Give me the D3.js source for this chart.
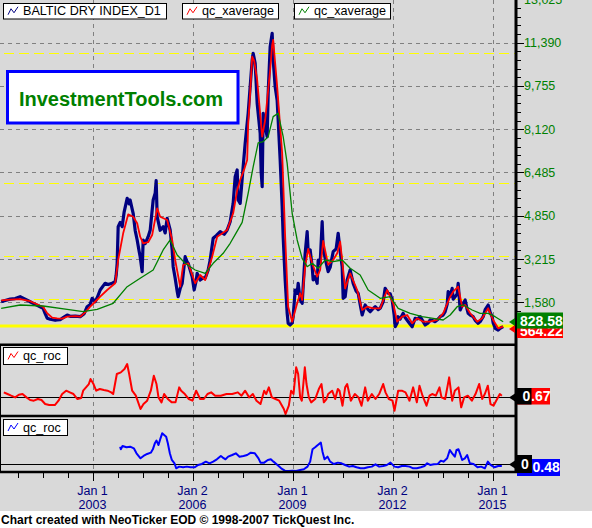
<!DOCTYPE html>
<html><head><meta charset="utf-8">
<script src="https://cdn.jsdelivr.net/npm/d3@7"></script>
<style>body{margin:0;background:#d9d9d9;}svg{display:block;font-family:"Liberation Sans",Arial,sans-serif;}</style>
</head><body><svg id="c" width="592" height="528"></svg>
<script>
// ---------- DATA ----------
const bdiYears = [2000.26,2000.38,2000.53,2000.68,2000.83,2000.98,2001.13,2001.22,2001.37,2001.52,2001.58,2001.64,2001.73,2001.88,2001.94,2002.03,2002.12,2002.24,2002.33,2002.48,2002.63,2002.75,2002.84,2002.93,2002.99,2003.08,2003.14,2003.23,2003.32,2003.38,2003.47,2003.59,2003.68,2003.71,2003.74,2003.77,2003.83,2003.89,2003.95,2004.04,2004.10,2004.13,2004.19,2004.22,2004.28,2004.34,2004.40,2004.43,2004.49,2004.52,2004.58,2004.67,2004.73,2004.82,2004.88,2004.91,2004.94,2005.03,2005.12,2005.18,2005.24,2005.33,2005.39,2005.42,2005.48,2005.54,2005.57,2005.63,2005.69,2005.78,2005.84,2005.87,2005.93,2005.99,2006.05,2006.11,2006.14,2006.23,2006.32,2006.38,2006.47,2006.53,2006.62,2006.71,2006.83,2006.95,2007.04,2007.13,2007.22,2007.28,2007.34,2007.37,2007.43,2007.52,2007.58,2007.67,2007.73,2007.79,2007.82,2007.88,2007.94,2008.03,2008.06,2008.09,2008.12,2008.18,2008.24,2008.27,2008.33,2008.39,2008.42,2008.48,2008.54,2008.57,2008.63,2008.69,2008.72,2008.78,2008.84,2008.87,2008.93,2008.99,2009.02,2009.08,2009.14,2009.17,2009.23,2009.29,2009.32,2009.38,2009.44,2009.47,2009.53,2009.59,2009.62,2009.68,2009.74,2009.77,2009.83,2009.89,2009.92,2009.98,2010.07,2010.13,2010.22,2010.31,2010.37,2010.43,2010.49,2010.52,2010.58,2010.64,2010.73,2010.82,2010.91,2010.97,2011.03,2011.09,2011.18,2011.27,2011.33,2011.42,2011.48,2011.57,2011.63,2011.72,2011.78,2011.87,2011.93,2011.99,2012.05,2012.08,2012.14,2012.17,2012.23,2012.32,2012.38,2012.44,2012.53,2012.59,2012.68,2012.74,2012.83,2012.92,2012.98,2013.07,2013.13,2013.22,2013.28,2013.37,2013.43,2013.52,2013.58,2013.64,2013.67,2013.73,2013.79,2013.82,2013.88,2013.94,2013.97,2014.00,2014.03,2014.12,2014.18,2014.24,2014.27,2014.33,2014.42,2014.48,2014.57,2014.63,2014.72,2014.78,2014.87,2014.93,2014.99,2015.02,2015.08,2015.17,2015.23,2015.32];
const bdiValues = [1600,1650,1700,1720,1790,1700,1600,1540,1450,1350,1150,980,940,900,911,920,1000,1100,1050,1060,1035,1150,1413,1500,1731,1600,1750,2044,2200,2297,2250,2300,2358,2600,3053,4437,4600,4437,5000,5510,5300,5445,5100,4943,4300,3934,3500,3303,2736,3934,3800,4059,4300,5445,5700,6175,4814,4300,4437,4200,4754,4312,3556,2925,2487,2000,1791,2100,2297,3303,3100,3053,2800,2547,2044,2400,2675,2422,2500,2487,2800,3178,3998,4100,4247,4150,4312,4625,5320,6326,6579,5445,5320,6705,7588,8721,9727,10735,10989,10611,9100,7966,6500,5948,8721,8215,7838,9477,11238,11744,10735,9727,9200,8469,6957,5192,4059,2422,1164,786,722,800,1035,2044,1920,2297,1667,1542,2169,3430,4247,3500,3556,2925,2422,2547,2297,3178,3053,4625,3600,3242,2736,2900,3492,3600,4187,3500,2925,1731,1791,2422,2800,2297,2000,1920,1500,1100,1478,1300,1225,1350,1413,1300,1353,1600,2109,1920,1900,1667,1100,658,800,1035,950,1164,1000,900,750,658,975,950,1035,850,722,800,911,880,847,950,1035,1100,1225,1500,1980,1800,2109,1700,1791,1900,2297,1800,1289,1542,1667,1300,1164,1100,1035,900,786,850,1035,1300,1478,1200,1035,800,597,533,600,658];

const fastAvgYears = [2000.26,2000.53,2000.83,2001.13,2001.52,2001.64,2001.79,2001.94,2002.09,2002.24,2002.48,2002.63,2002.78,2002.93,2003.08,2003.23,2003.44,2003.68,2003.77,2003.92,2004.07,2004.22,2004.34,2004.43,2004.52,2004.67,2004.79,2004.94,2005.03,2005.24,2005.39,2005.48,2005.63,2005.72,2005.87,2006.08,2006.23,2006.38,2006.59,2006.74,2007.04,2007.22,2007.34,2007.43,2007.55,2007.64,2007.67,2007.73,2007.79,2007.85,2007.94,2008.09,2008.18,2008.33,2008.39,2008.42,2008.54,2008.69,2008.78,2008.87,2008.99,2009.14,2009.23,2009.29,2009.38,2009.47,2009.59,2009.74,2009.83,2009.92,2010.07,2010.22,2010.34,2010.43,2010.58,2010.73,2010.94,2011.09,2011.24,2011.42,2011.63,2011.84,2012.02,2012.14,2012.29,2012.44,2012.59,2012.74,2012.92,2013.13,2013.34,2013.52,2013.73,2013.82,2013.97,2014.09,2014.18,2014.33,2014.54,2014.69,2014.87,2015.02,2015.17,2015.32];
const fastAvgValues = [1650,1680,1700,1620,1400,1164,1000,975,960,1035,1060,1035,1200,1413,1600,1791,2044,2297,3178,4187,4900,4814,4565,4059,3809,3850,4122,5131,4814,4690,3934,3178,2169,2989,3053,2297,2611,2422,3303,4059,4312,4943,5800,6201,6600,6957,8300,9500,10861,10700,9980,7838,8469,10358,11300,11492,9727,7210,4059,1413,847,1542,1920,1667,2925,3600,3053,2547,2800,3900,3000,3178,3430,3870,2100,2675,2044,1289,1413,1353,1353,2044,1542,847,1035,1100,786,975,847,850,911,1164,1791,1980,2169,1413,1478,1164,847,975,1353,911,597,658];

const slowAvgYears = [2000.26,2000.83,2001.52,2002.24,2002.72,2003.14,2003.62,2004.04,2004.43,2004.82,2005.12,2005.33,2005.54,2005.78,2006.08,2006.38,2006.62,2006.92,2007.13,2007.31,2007.49,2007.67,2007.82,2007.97,2008.12,2008.27,2008.42,2008.57,2008.72,2008.84,2008.99,2009.14,2009.29,2009.44,2009.59,2009.77,2009.98,2010.22,2010.49,2010.73,2011.03,2011.27,2011.63,2011.93,2012.17,2012.53,2012.89,2013.22,2013.52,2013.73,2013.94,2014.12,2014.39,2014.63,2014.87,2015.08,2015.32];
const slowAvgValues = [1353,1478,1440,1315,1225,1315,1542,2169,2487,2800,3556,3934,3367,3053,2800,2675,3053,3430,3809,4200,4600,5700,6700,7600,7650,7838,8595,8721,7838,6831,4943,3934,3242,2925,3053,2864,3178,3116,3178,2864,2611,2044,1731,1791,1353,1164,1035,975,911,1100,1413,1478,1289,1164,1164,1035,847];

const roc1Years = [2000.34,2000.45,2000.56,2000.68,2000.79,2000.90,2001.02,2001.13,2001.24,2001.36,2001.47,2001.58,2001.70,2001.87,2001.98,2002.09,2002.21,2002.32,2002.43,2002.55,2002.66,2002.72,2002.89,2002.94,2003.03,2003.11,2003.22,2003.34,2003.45,2003.56,2003.62,2003.73,2003.85,2003.96,2004.04,2004.10,2004.19,2004.30,2004.44,2004.53,2004.64,2004.75,2004.84,2004.92,2004.98,2005.07,2005.15,2005.26,2005.38,2005.49,2005.60,2005.66,2005.77,2005.89,2006.00,2006.11,2006.23,2006.34,2006.45,2006.56,2006.68,2006.85,2007.02,2007.19,2007.36,2007.47,2007.58,2007.70,2007.81,2007.92,2008.04,2008.15,2008.21,2008.29,2008.38,2008.49,2008.60,2008.74,2008.79,2008.89,2008.96,2009.03,2009.11,2009.17,2009.23,2009.28,2009.37,2009.42,2009.49,2009.56,2009.68,2009.79,2009.87,2009.94,2010.02,2010.07,2010.19,2010.28,2010.36,2010.41,2010.50,2010.58,2010.64,2010.75,2010.87,2010.98,2011.07,2011.18,2011.26,2011.38,2011.49,2011.60,2011.72,2011.79,2011.89,2012.00,2012.06,2012.17,2012.28,2012.39,2012.51,2012.62,2012.73,2012.81,2012.90,2013.02,2013.11,2013.19,2013.30,2013.41,2013.47,2013.58,2013.70,2013.79,2013.87,2013.98,2014.06,2014.15,2014.26,2014.38,2014.49,2014.60,2014.69,2014.77,2014.86,2014.94,2015.03,2015.11,2015.22,2015.28];
const roc1Values = [13,8,3,-2,6,8,-2,-10,-12,-7,-10,-22,-25,-25,-12,8,18,13,8,-7,-4,18,38,53,38,18,23,20,18,13,8,68,73,83,98,68,18,3,-37,-22,-12,18,63,38,-2,-17,8,-7,-17,-17,28,18,8,-7,-12,18,-7,-7,8,13,3,3,8,8,13,3,18,-2,8,-12,-22,18,8,28,-2,-7,-12,-37,-52,-27,18,8,88,68,-2,-12,88,38,-2,-17,-7,23,38,-17,-7,8,18,-7,23,18,-27,28,38,-12,8,-2,-27,28,-12,8,-7,8,38,13,-7,-12,-42,18,18,13,-12,28,-17,33,3,-27,3,8,3,28,-2,-7,58,-12,18,28,-32,-2,3,-12,8,38,-7,8,33,-22,-27,-12,8,3];

const roc2Years = [2003.83,2003.85,2003.90,2004.02,2004.13,2004.24,2004.32,2004.44,2004.53,2004.64,2004.75,2004.81,2004.87,2004.92,2004.98,2005.04,2005.09,2005.15,2005.21,2005.26,2005.32,2005.38,2005.46,2005.51,2005.60,2005.72,2005.83,2005.94,2006.06,2006.17,2006.28,2006.40,2006.51,2006.62,2006.73,2006.85,2006.90,2006.99,2007.07,2007.19,2007.30,2007.41,2007.53,2007.64,2007.75,2007.87,2007.98,2008.04,2008.15,2008.26,2008.35,2008.43,2008.55,2008.66,2008.77,2008.89,2009.00,2009.11,2009.23,2009.34,2009.45,2009.53,2009.60,2009.68,2009.76,2009.85,2009.90,2009.96,2010.05,2010.13,2010.24,2010.36,2010.47,2010.58,2010.70,2010.81,2010.92,2011.04,2011.15,2011.26,2011.38,2011.49,2011.60,2011.72,2011.83,2011.94,2012.06,2012.17,2012.28,2012.39,2012.51,2012.62,2012.73,2012.85,2012.96,2013.04,2013.13,2013.24,2013.36,2013.45,2013.53,2013.64,2013.72,2013.79,2013.87,2013.92,2013.98,2014.04,2014.09,2014.17,2014.24,2014.32,2014.43,2014.55,2014.66,2014.77,2014.86,2014.94,2015.06,2015.17,2015.28];
const roc2Values = [52,44,54,50,52,47,32,17,24,30,34,44,62,70,57,77,92,87,82,62,32,12,2,-13,-8,-10,-8,-10,-10,-3,0,7,2,7,14,24,20,14,22,27,32,22,24,27,34,32,17,4,4,12,14,7,-3,-13,-20,-21,-20,-21,-18,-16,-8,7,44,50,57,64,37,14,22,7,0,4,2,-3,-8,-6,-10,-13,-13,-10,-8,-1,-8,-6,-3,4,-8,-10,-6,-6,-8,-13,-13,-10,-6,2,-3,-1,0,10,7,17,42,32,22,42,44,27,12,17,27,2,0,-10,-8,-13,7,-3,-10,-6,-6];

const yTickValues = [1580,3215,4850,6485,8120,9755,11390,13025];
const yellowDashLevels = [1693,3340,6076,10989];
const yellowSolidLevel = 684;
const xTickYears = [2003,2006,2009,2012,2015];
const xTickTop = ["Jan 1","Jan 2","Jan 1","Jan 2","Jan 1"];
const xTickBottom = ["2003","2006","2009","2012","2015"];
const legendMain = ["BALTIC DRY INDEX_D1","qc_xaverage","qc_xaverage"];
const lastLabels = {slow:"828.58", fast:"564.22", roc1Tail:".67", roc2Tail:"0.48"};

// ---------- DRAW ----------
const svg = d3.select("#c");
svg.append("rect").attr("width",592).attr("height",528).attr("fill","#d9d9d9");
svg.append("rect").attr("y",511).attr("width",592).attr("height",17).attr("fill","#ffffff");

const x = d3.scaleLinear().domain([2000.225,2015.705]).range([0,516]);
const yMain = d3.scaleLinear().domain([0,13025]).range([344.1,-0.6]);
const yRoc1 = d3.scaleLinear().domain([-54,150]).range([414.7,346.7]);
const yRoc2 = d3.scaleLinear().domain([-25,144]).range([472.3,416]);

const defs = svg.append("defs");
[["cm",0,0,515,344],["c1",0,346,515,69],["c2",0,417.5,515,54],
 ["cFast",517,328.5,46,10]].forEach(c=>{
  defs.append("clipPath").attr("id",c[0]).append("rect").attr("x",c[1]).attr("y",c[2]).attr("width",c[3]).attr("height",c[4]);
});

const panels = [[0,344],[346,415],[417,472]];
const grid = svg.append("g").attr("stroke","#808080").attr("stroke-width",1).attr("stroke-dasharray","4,4");
panels.forEach(p=>{
  xTickYears.forEach(yr=>{
    const xx = Math.round(x(yr))+0.5;
    grid.append("line").attr("x1",xx).attr("x2",xx).attr("y1",p[0]).attr("y2",p[1]);
  });
});
yTickValues.forEach(v=>{
  const yy = Math.round(yMain(v))+0.5;
  grid.append("line").attr("x1",0).attr("x2",515).attr("y1",yy).attr("y2",yy);
});
const yl = svg.append("g").attr("stroke","#ffff00");
yellowDashLevels.forEach(v=>{
  const yy = Math.round(yMain(v))+0.5;
  yl.append("line").attr("x1",4).attr("x2",515).attr("y1",yy).attr("y2",yy).attr("stroke-dasharray","10,5");
});
yl.append("line").attr("x1",0).attr("x2",515).attr("y1",yMain(yellowSolidLevel)).attr("y2",yMain(yellowSolidLevel)).attr("stroke-width",3);

function series(clip, xs, ys, ys2, color, w){
  const line = d3.line().x(d=>x(d[0])).y(d=>ys2(d[1]));
  svg.append("path").attr("clip-path",`url(#${clip})`).attr("d",line(d3.zip(xs,ys)))
    .attr("fill","none").attr("stroke",color).attr("stroke-width",w).attr("stroke-linejoin","round");
}
series("cm",bdiYears,bdiValues,yMain,"#000080",3.2);
series("cm",fastAvgYears,fastAvgValues,yMain,"#ff0000",1.8);
series("cm",slowAvgYears,slowAvgValues,yMain,"#008000",1.3);

// zero lines
[yRoc1(0),yRoc2(0)].forEach(yy=>{
  svg.append("line").attr("x1",0).attr("x2",516).attr("y1",Math.round(yy)+0.5).attr("y2",Math.round(yy)+0.5).attr("stroke","#000").attr("stroke-width",1);
});
series("c1",roc1Years,roc1Values,yRoc1,"#ff0000",2);
series("c2",roc2Years,roc2Values,yRoc2,"#0000ff",2);

// borders
const bd = svg.append("g").attr("stroke","#000");
[344.8,416,472].forEach(yy=>bd.append("line").attr("x1",0).attr("x2",517).attr("y1",yy).attr("y2",yy).attr("stroke-width",2.5));
bd.append("line").attr("x1",516).attr("x2",516).attr("y1",0).attr("y2",473).attr("stroke-width",3);
bd.append("line").attr("x1",0.5).attr("x2",0.5).attr("y1",344).attr("y2",473).attr("stroke-width",1);

// right axis ticks and labels
const ax = svg.append("g");
d3.range(-4,36).map(k=>({v:1580+k*327,major:k%5===0})).filter(d=>d.v>=0&&d.v<=13025).forEach(d=>{
  const yy = Math.round(yMain(d.v))+0.5;
  ax.append("line").attr("x1",517).attr("x2",d.major?524:521).attr("y1",yy).attr("y2",yy).attr("stroke","#000").attr("stroke-width",1);
});
yTickValues.forEach(v=>{
  ax.append("text").attr("x",524).attr("y",yMain(v)).attr("dy","0.36em").attr("font-size","12.5px").attr("fill","#008000").text(d3.format(",")(v));
});

// bottom axis
d3.range(2000.75,2015.71,0.75).forEach(yr=>{
  const xx = Math.round(x(yr))+0.5;
  const major = xTickYears.some(t=>Math.abs(t-yr)<0.01);
  ax.append("line").attr("x1",xx).attr("x2",xx).attr("y1",473).attr("y2",major?481:478).attr("stroke","#000");
});
xTickYears.forEach((yr,i)=>{
  ax.append("text").attr("x",x(yr)).attr("y",494.5).attr("text-anchor","middle").attr("font-size","12.5px").attr("fill","#000080").text(xTickTop[i]);
  ax.append("text").attr("x",x(yr)).attr("y",509).attr("text-anchor","middle").attr("font-size","12.5px").attr("fill","#000080").text(xTickBottom[i]);
});

// legends
function legend(x0,y0,w,h,color,text){
  const g = svg.append("g");
  g.append("rect").attr("x",x0+0.5).attr("y",y0+0.5).attr("width",w).attr("height",h).attr("fill","#fff").attr("stroke","#000");
  const cy = y0+h/2;
  g.append("path").attr("d",`M${x0+5},${cy+4} L${x0+8},${cy-2} L${x0+11},${cy+2} L${x0+15},${cy-4}`).attr("fill","none").attr("stroke",color).attr("stroke-width",1);
  g.append("text").attr("x",x0+20).attr("y",cy).attr("dy","0.36em").attr("font-size","12.6px").attr("fill","#000").text(text);
}
legend(3,3,163,15.5,"#000080",legendMain[0]);
legend(182,3,96,15.5,"#ff0000",legendMain[1]);
legend(294,3,96,15.5,"#008000",legendMain[2]);
legend(3,347,64,17,"#ff0000","qc_roc");
legend(3,419,64,16,"#0000ff","qc_roc");

// watermark box
svg.append("rect").attr("x",7.5).attr("y",71.5).attr("width",230.5).attr("height",51.5).attr("fill","#fff").attr("stroke","#0000ff").attr("stroke-width",3);
svg.append("text").attr("x",121).attr("y",105.5).attr("text-anchor","middle").attr("font-size","20px").attr("font-weight","bold").attr("fill","#008000").text("InvestmentTools.com");

// last value labels
function tri(yy,color){
  svg.append("path").attr("d",`M509,${yy} L515,${yy-4} L515,${yy+4} Z`).attr("fill",color);
}
tri(329,"#ff0000");
svg.append("rect").attr("x",517).attr("y",323).attr("width",46).attr("height",15).attr("fill","#ff0000");
svg.append("text").attr("clip-path","url(#cFast)").attr("x",520).attr("y",335.5).attr("font-size","14px").attr("font-weight","bold").attr("fill","#fff").text(lastLabels.fast);
tri(322,"#008000");
svg.append("rect").attr("x",517).attr("y",312.5).attr("width",46).attr("height",16).attr("fill","#008000");
svg.append("text").attr("x",520).attr("y",325.5).attr("font-size","14px").attr("font-weight","bold").attr("fill","#fff").text(lastLabels.slow);

tri(Math.round(yRoc1(0))+0.5,"#000");
svg.append("rect").attr("x",517).attr("y",388).attr("width",33).attr("height",16.5).attr("fill","#ff0000");
svg.append("text").attr("x",531).attr("y",401).attr("font-size","14px").attr("font-weight","bold").attr("fill","#fff").text(lastLabels.roc1Tail);
svg.append("rect").attr("x",517).attr("y",388).attr("width",14.5).attr("height",16.5).attr("fill","#000");
svg.append("text").attr("x",522.5).attr("y",401).attr("font-size","14px").attr("font-weight","bold").attr("fill","#fff").text("0");

tri(Math.round(yRoc2(0))+0.5,"#000");
svg.append("rect").attr("x",517).attr("y",459).attr("width",43).attr("height",17).attr("fill","#0000ff");
svg.append("text").attr("x",532.5).attr("y",472).attr("font-size","14px").attr("font-weight","bold").attr("fill","#fff").text(lastLabels.roc2Tail);
svg.append("rect").attr("x",517).attr("y",455).attr("width",15).attr("height",18).attr("fill","#000");
svg.append("text").attr("x",521).attr("y",469).attr("font-size","14px").attr("font-weight","bold").attr("fill","#fff").text("0");

// footer
svg.append("text").attr("x",1).attr("y",524).attr("font-size","12px").attr("font-weight","bold").attr("fill","#000").text("Chart created with NeoTicker EOD \u00a9 1998-2007 TickQuest Inc.");
</script>
</body></html>
